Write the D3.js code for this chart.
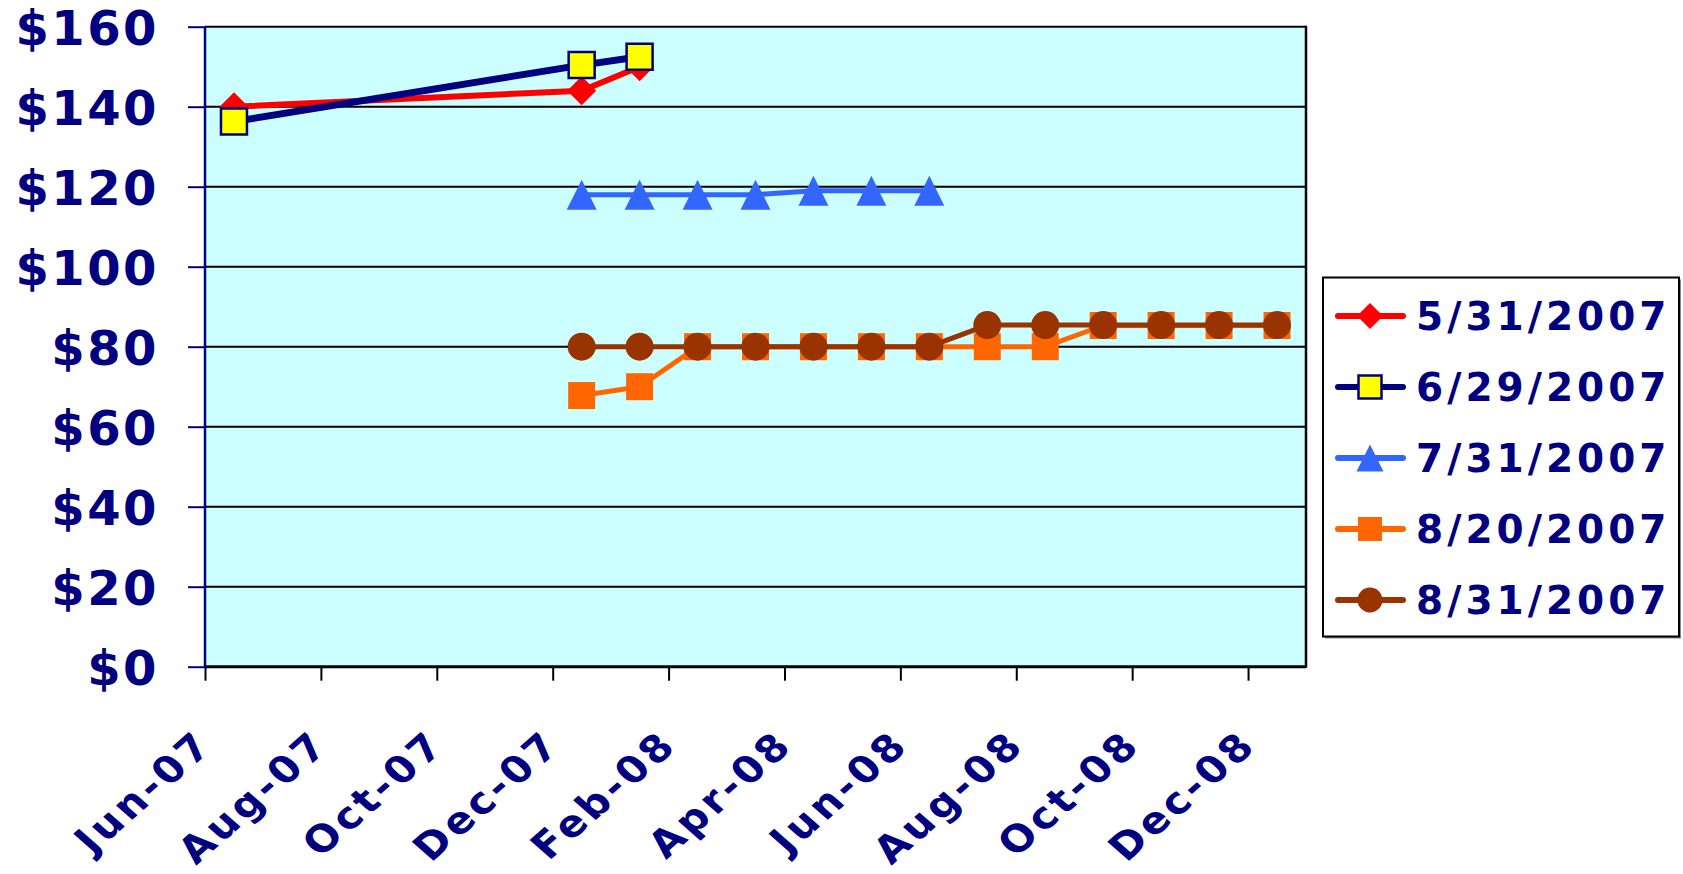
<!DOCTYPE html>
<html>
<head>
<meta charset="utf-8">
<script src="https://cdn.jsdelivr.net/npm/d3@7"></script>
<style>
  html, body { margin: 0; padding: 0; background: #ffffff; }
  svg { display: block; }
  text { font-family: "DejaVu Sans", Verdana, sans-serif; font-weight: bold; fill: #000080; }
</style>
</head>
<body>
<svg id="chart" width="1683" height="874"></svg>
<script>
// ---------- data ----------
const months = ["Jun-07","Jul-07","Aug-07","Sep-07","Oct-07","Nov-07","Dec-07","Jan-08","Feb-08","Mar-08","Apr-08","May-08","Jun-08","Jul-08","Aug-08","Sep-08","Oct-08","Nov-08","Dec-08"];
const tickLabels = ["Jun-07","Aug-07","Oct-07","Dec-07","Feb-08","Apr-08","Jun-08","Aug-08","Oct-08","Dec-08"];
const yTicks = [0, 20, 40, 60, 80, 100, 120, 140, 160];

const seriesNames = ["5/31/2007", "6/29/2007", "7/31/2007", "8/20/2007", "8/31/2007"];

const months0531 = ["Jun-07", "Dec-07", "Jan-08"];
const values0531 = [140, 144, 150];

const months0629 = ["Jun-07", "Dec-07", "Jan-08"];
const values0629 = [136.3, 150.4, 152.5];

const months0731 = ["Dec-07","Jan-08","Feb-08","Mar-08","Apr-08","May-08","Jun-08"];
const values0731 = [118, 118, 118, 118, 119, 119, 119];

const months0820 = ["Dec-07","Jan-08","Feb-08","Mar-08","Apr-08","May-08","Jun-08","Jul-08","Aug-08","Sep-08","Oct-08","Nov-08","Dec-08"];
const values0820 = [67.8, 70, 80, 80, 80, 80, 80, 80, 80, 85.3, 85.3, 85.3, 85.3];

const months0831 = ["Dec-07","Jan-08","Feb-08","Mar-08","Apr-08","May-08","Jun-08","Jul-08","Aug-08","Sep-08","Oct-08","Nov-08","Dec-08"];
const values0831 = [80, 80, 80, 80, 80, 80, 80, 85.4, 85.4, 85.4, 85.4, 85.4, 85.4];

// ---------- styles ----------
const styles = [
  { line: "#FF0000", width: 6, marker: "diamond", fill: "#FF0000", stroke: "none", size: 29 },
  { line: "#000080", width: 7, marker: "square", fill: "#FFFF00", stroke: "#000080", size: 26 },
  { line: "#3366FF", width: 5, marker: "triangle", fill: "#3366FF", stroke: "none", size: 30 },
  { line: "#FF6600", width: 5, marker: "square", fill: "#FF6600", stroke: "none", size: 27 },
  { line: "#993300", width: 5, marker: "circle", fill: "#993300", stroke: "none", size: 28 }
];

const series = [
  { name: seriesNames[0], months: months0531, values: values0531 },
  { name: seriesNames[1], months: months0629, values: values0629 },
  { name: seriesNames[2], months: months0731, values: values0731 },
  { name: seriesNames[3], months: months0820, values: values0820 },
  { name: seriesNames[4], months: months0831, values: values0831 }
];

// ---------- layout ----------
const plot = { left: 205, right: 1306, top: 26.7, bottom: 666.7 };
const svg = d3.select("#chart");

const x = d3.scaleLinear().domain([0, months.length]).range([plot.left, plot.right]);
const y = d3.scaleLinear().domain([0, 160]).range([plot.bottom, plot.top]);
const mx = m => x(months.indexOf(m) + 0.5);

function markerPath(type, s) {
  const h = s / 2;
  if (type === "diamond") return `M0,${-h}L${h},0L0,${h}L${-h},0Z`;
  if (type === "square") return `M${-h},${-h}H${h}V${h}H${-h}Z`;
  if (type === "triangle") return `M0,${-h}L${h},${h}L${-h},${h}Z`;
  if (type === "circle") return `M${-h},0A${h},${h} 0 1,0 ${h},0A${h},${h} 0 1,0 ${-h},0Z`;
}

// plot background
svg.append("rect")
  .attr("x", plot.left).attr("y", plot.top)
  .attr("width", plot.right - plot.left).attr("height", plot.bottom - plot.top)
  .attr("fill", "#CCFFFF");

// gridlines
svg.append("g")
  .selectAll("line").data(yTicks.filter(d => d > 0)).join("line")
  .attr("x1", plot.left).attr("x2", plot.right)
  .attr("y1", d => y(d)).attr("y2", d => y(d))
  .attr("stroke", "#000").attr("stroke-width", 2);

// right border
svg.append("line")
  .attr("x1", plot.right).attr("x2", plot.right)
  .attr("y1", plot.top - 1).attr("y2", plot.bottom + 1)
  .attr("stroke", "#000").attr("stroke-width", 2.5);

// x axis
const xAxis = d3.axisBottom(x)
  .tickValues(d3.range(0, months.length, 2))
  .tickSize(14)
  .tickFormat(i => tickLabels[i / 2]);
const gx = svg.append("g").attr("transform", `translate(0,${plot.bottom})`).call(xAxis);
gx.select(".domain").attr("stroke", "#000").attr("stroke-width", 3).attr("d", `M${plot.left},0H${plot.right}`);
gx.selectAll(".tick line").attr("stroke", "#000").attr("stroke-width", 2);
gx.selectAll(".tick text")
  .attr("fill", "#000080")
  .style("font-size", "39px")
  .style("letter-spacing", "3.5px")
  .attr("text-anchor", "end")
  .attr("y", 0).attr("dy", 0)
  .attr("transform", "translate(10,80) scale(1.08,0.95) rotate(-45)");

// y axis
const yAxis = d3.axisLeft(y).tickValues(yTicks).tickSize(17).tickFormat(d => "$" + d);
const gy = svg.append("g").attr("transform", `translate(${plot.left},0)`).call(yAxis);
gy.select(".domain").attr("stroke", "#000080").attr("stroke-width", 2.5).attr("d", `M0,${plot.top}V${plot.bottom}`);
gy.selectAll(".tick line").attr("stroke", "#000080").attr("stroke-width", 2);
gy.selectAll(".tick text")
  .attr("fill", "#000080")
  .style("font-size", "48px")
  .style("letter-spacing", "2.5px")
  .attr("x", -46).attr("dy", "18px");

// series
const lineGen = d3.line().x(d => mx(d.m)).y(d => y(d.v));
series.forEach((s, i) => {
  const st = styles[i];
  const pts = s.months.map((m, j) => ({ m, v: s.values[j] }));
  const g = svg.append("g");
  g.append("path").datum(pts)
    .attr("d", lineGen)
    .attr("fill", "none")
    .attr("stroke", st.line)
    .attr("stroke-width", st.width)
    .attr("stroke-linejoin", "round");
  g.selectAll("path.mk").data(pts).join("path")
    .attr("class", "mk")
    .attr("transform", d => `translate(${mx(d.m)},${y(d.v)})`)
    .attr("d", markerPath(st.marker, st.size))
    .attr("fill", st.fill)
    .attr("stroke", st.stroke)
    .attr("stroke-width", st.stroke === "none" ? 0 : 2.5);
});

// legend
const legend = { x: 1323, y: 277.5, w: 356, h: 359, first: 316, step: 71 };
svg.append("rect")
  .attr("x", legend.x + 2).attr("y", legend.y + 2)
  .attr("width", legend.w).attr("height", legend.h)
  .attr("fill", "#888");
svg.append("rect")
  .attr("x", legend.x).attr("y", legend.y)
  .attr("width", legend.w).attr("height", legend.h)
  .attr("fill", "#fff").attr("stroke", "#000").attr("stroke-width", 2);

const lg = svg.append("g").selectAll("g").data(series).join("g")
  .attr("transform", (d, i) => `translate(0,${legend.first + i * legend.step})`);
lg.append("line")
  .attr("x1", 1338).attr("x2", 1403).attr("y1", 0).attr("y2", 0)
  .attr("stroke", (d, i) => styles[i].line)
  .attr("stroke-width", 6)
  .attr("stroke-linecap", "round");
lg.append("path")
  .attr("transform", "translate(1370,0)")
  .attr("d", (d, i) => markerPath(styles[i].marker, styles[i].size - 3))
  .attr("fill", (d, i) => styles[i].fill)
  .attr("stroke", (d, i) => styles[i].stroke)
  .attr("stroke-width", (d, i) => styles[i].stroke === "none" ? 0 : 2.5);
lg.append("text")
  .attr("x", 1416).attr("y", 14)
  .style("font-size", "39px")
  .style("letter-spacing", "4px")
  .text(d => d.name);
</script>
</body>
</html>
